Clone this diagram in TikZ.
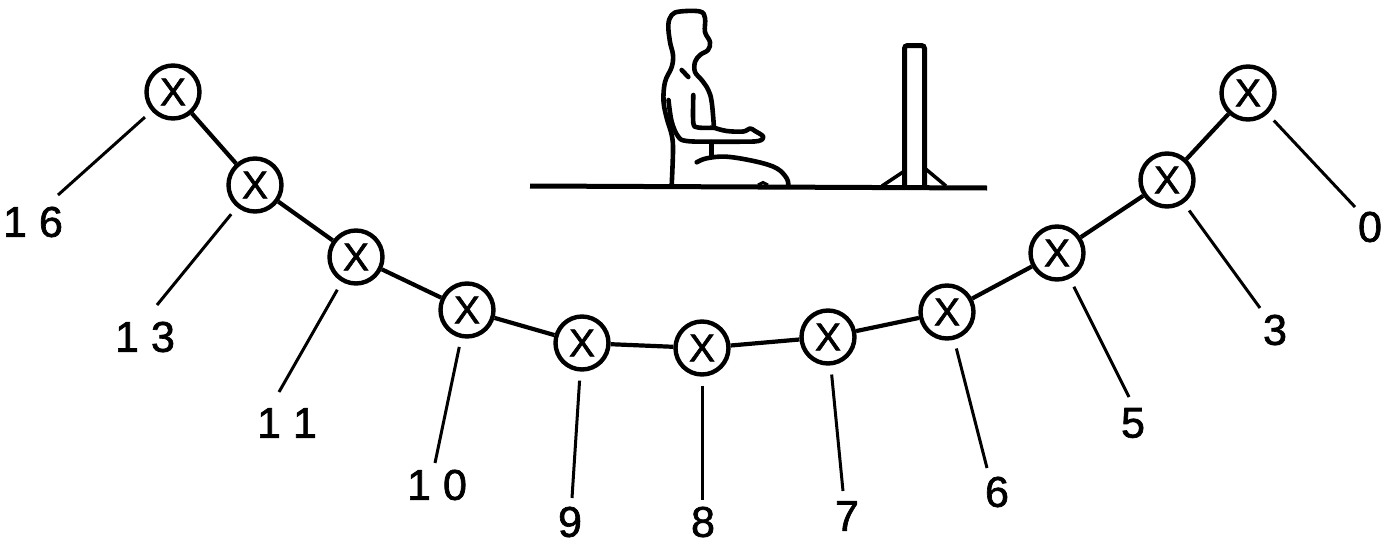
\documentclass[tikz,border=0pt]{standalone}
\usepackage{fontspec}
\setmainfont{Liberation Sans}
\newfontfamily\stencilfont[FakeBold=1.6]{Liberation Sans}
\begin{document}
\begin{tikzpicture}[x=1pt,y=-1pt,
  station/.style={draw, circle, line width=4.4pt, minimum size=53pt, inner sep=0pt,
                  font=\stencilfont\fontsize{39}{39}\selectfont},
  chainline/.style={line width=4.2pt},
  leader/.style={line width=3pt, shorten <=9pt},
  numlabel/.style={inner sep=0pt, font=\stencilfont\fontsize{43}{43}\selectfont},
  sketch/.style={line width=4.6pt, line cap=round, line join=round}]
\useasboundingbox (0,0) rectangle (1381,546);

% measuring stations along the arc
\node[station] (n16) at (173,92)   {X};
\node[station] (n13) at (255,185)  {X};
\node[station] (n11) at (356,257)  {X};
\node[station] (n10) at (467,310)  {X};
\node[station] (n9)  at (582,343)  {X};
\node[station] (n8)  at (702,348)  {X};
\node[station] (n7)  at (828,337)  {X};
\node[station] (n6)  at (947,312)  {X};
\node[station] (n5)  at (1057,253) {X};
\node[station] (n3)  at (1167,180) {X};
\node[station] (n0)  at (1248,93)  {X};

\draw[chainline] (n16) -- (n13) -- (n11) -- (n10) -- (n9) -- (n8)
                 -- (n7) -- (n6) -- (n5) -- (n3) -- (n0);

% station numbers
\node[numlabel] (l16) at (33,222)   {1\kern12pt 6};
\node[numlabel] (l13) at (145,337)  {1\kern12pt 3};
\node[numlabel] (l11) at (287,423)  {1\kern12pt 1};
\node[numlabel] (l10) at (437,485)  {1\kern12pt 0};
\node[numlabel] (l9)  at (570,522)  {9};
\node[numlabel] (l8)  at (703,522)  {8};
\node[numlabel] (l7)  at (847,516)  {7};
\node[numlabel] (l6)  at (997,492)  {6};
\node[numlabel] (l5)  at (1133,423) {5};
\node[numlabel] (l3)  at (1275,330) {3};
\node[numlabel] (l0)  at (1370,227) {0};

% leader lines from the stations towards their numbers
\coordinate (e16) at (58,195);
\coordinate (e13) at (157,305);
\coordinate (e11) at (279,392);
\coordinate (e10) at (435,463);
\coordinate (e9)  at (572,498);
\coordinate (e8)  at (702,500);
\coordinate (e7)  at (843,491);
\coordinate (e6)  at (987,468);
\coordinate (e5)  at (1129,397);
\coordinate (e3)  at (1260,308);
\coordinate (e0)  at (1355,207);
\foreach \k in {16,13,11,10,9,8,7,6,5,3,0}
  \draw[leader] (n\k) -- (e\k);

% floor
\draw[line width=5pt] (530,186) -- (987,188);

% seated person: head, back and chest
\draw[sketch] plot[smooth, tension=0.6] coordinates {
  (671.7,185) (673,150) (671.7,135) (666.7,118) (663.5,101) (665,82)
  (671.7,67) (673,55) (670,42) (668.3,25) (671.7,15) (680,11.5)
  (700,11.5) (705,18) (705,32) (710,42) (708,50) (700,55) (695,62)
  (695,72) (701.7,80) (708.3,90) (711.7,102) (714,127.7)};
% arm and hand
\draw[sketch] plot[smooth, tension=0.6] coordinates {
  (668.5,100) (671.7,121.7) (678.3,136.7) (686.7,141) (711.7,141.7)
  (740,141.7) (758.3,141) (763.3,136.7) (755,131) (750,128.5)
  (743.3,131.5) (726.7,131) (714,127.7)};
\draw[sketch] plot[smooth, tension=0.5] coordinates {
  (693.3,95) (693.3,123) (698,127.5) (714,127.7)};
% shoulder mark
\draw[sketch] (681.7,70) -- (688.3,77);
% lap and thigh
\draw[sketch] (711.7,142) -- (711.7,156);
\draw[sketch] plot[smooth, tension=0.6] coordinates {
  (696.7,162.3) (706.7,158.3) (726.7,156.7) (756.7,161.7)
  (776.7,168.3) (786.7,178.3) (788.3,186)};
\draw[line width=3pt] (758,185) -- (763,182.5) -- (768,185);

% upright post with its two braces
\draw[line width=5pt, rounded corners=3pt]
  (904.5,186) -- (904.5,45.5) -- (924.5,45.5) -- (924.5,186);
\draw[line width=3.5pt] (882,186) -- (904.5,171);
\draw[line width=3.5pt] (924.5,168) -- (946,186);
\end{tikzpicture}
\end{document}
